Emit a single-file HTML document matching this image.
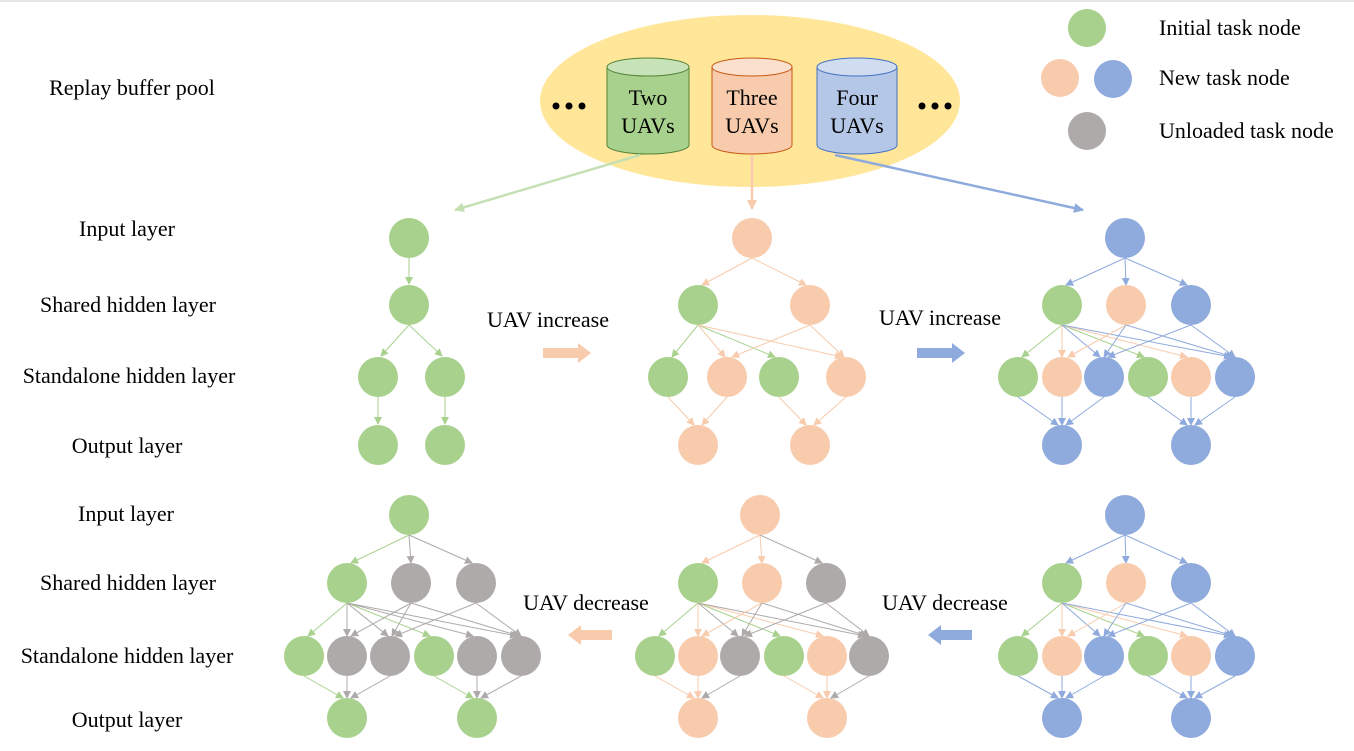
<!DOCTYPE html>
<html><head><meta charset="utf-8"><style>
html,body{margin:0;padding:0;background:#fff;}
svg{display:block;}
text{font-family:"Liberation Serif",serif;font-size:22px;fill:#000;}
</style></head><body>
<svg width="1354" height="751" viewBox="0 0 1354 751" xmlns="http://www.w3.org/2000/svg">
<defs>
<marker id="mg" markerWidth="8" markerHeight="8" refX="7" refY="4" orient="auto" markerUnits="userSpaceOnUse"><path d="M0,0 L8,4 L0,8z" fill="#A9D18E"/></marker>
<marker id="mp" markerWidth="8" markerHeight="8" refX="7" refY="4" orient="auto" markerUnits="userSpaceOnUse"><path d="M0,0 L8,4 L0,8z" fill="#F8CBAD"/></marker>
<marker id="mb" markerWidth="8" markerHeight="8" refX="7" refY="4" orient="auto" markerUnits="userSpaceOnUse"><path d="M0,0 L8,4 L0,8z" fill="#8FAADC"/></marker>
<marker id="mk" markerWidth="8" markerHeight="8" refX="7" refY="4" orient="auto" markerUnits="userSpaceOnUse"><path d="M0,0 L8,4 L0,8z" fill="#AEAAAA"/></marker>
<marker id="mbb" markerWidth="10" markerHeight="10" refX="9" refY="5" orient="auto" markerUnits="userSpaceOnUse"><path d="M0,0 L10,5 L0,10z" fill="#8FAADC"/></marker>
<marker id="mpp" markerWidth="10" markerHeight="10" refX="9" refY="5" orient="auto" markerUnits="userSpaceOnUse"><path d="M0,0 L10,5 L0,10z" fill="#F8CBAD"/></marker>
<marker id="mgg" markerWidth="10" markerHeight="10" refX="9" refY="5" orient="auto" markerUnits="userSpaceOnUse"><path d="M0,0 L10,5 L0,10z" fill="#C5E0B4"/></marker>
</defs>
<rect x="0" y="0" width="1354" height="2" fill="#e6e6e6"/>

<!-- buffer pool -->
<ellipse cx="750" cy="101" rx="210" ry="86" fill="#FFE699"/>
<g stroke-width="1">
<path d="M607,67 V145 A41,9 0 0 0 689,145 V67" fill="#A9D18E" stroke="#548235"/>
<ellipse cx="648" cy="67" rx="41" ry="9" fill="#C9E3B8" stroke="#548235"/>
<path d="M712,67 V145 A40,9 0 0 0 792,145 V67" fill="#F8CBAD" stroke="#C55A11"/>
<ellipse cx="752" cy="67" rx="40" ry="9" fill="#FBE0CE" stroke="#C55A11"/>
<path d="M817,67 V145 A40,9 0 0 0 897,145 V67" fill="#B4C7E7" stroke="#4472C4"/>
<ellipse cx="857" cy="67" rx="40" ry="9" fill="#D0DCF0" stroke="#4472C4"/>
</g>
<text x="648" y="105" text-anchor="middle">Two</text><text x="648" y="133" text-anchor="middle">UAVs</text>
<text x="752" y="105" text-anchor="middle">Three</text><text x="752" y="133" text-anchor="middle">UAVs</text>
<text x="857" y="105" text-anchor="middle">Four</text><text x="857" y="133" text-anchor="middle">UAVs</text>
<g fill="#000"><circle cx="556" cy="106" r="3.5"/><circle cx="569" cy="106" r="3.5"/><circle cx="582" cy="106" r="3.5"/>
<circle cx="922" cy="106" r="3.5"/><circle cx="935" cy="106" r="3.5"/><circle cx="948" cy="106" r="3.5"/></g>
<line x1="640" y1="155" x2="455" y2="210" stroke="#C5E0B4" stroke-width="2.5" marker-end="url(#mgg)"/>
<line x1="752" y1="155" x2="752" y2="209" stroke="#F8CBAD" stroke-width="2.5" marker-end="url(#mpp)"/>
<line x1="835" y1="155" x2="1083" y2="210" stroke="#8FAADC" stroke-width="2.5" marker-end="url(#mbb)"/>

<!-- legend -->
<circle cx="1087" cy="28" r="19" fill="#A9D18E"/>
<circle cx="1060" cy="78" r="19" fill="#F8CBAD"/>
<circle cx="1113" cy="79" r="19" fill="#8FAADC"/>
<circle cx="1087" cy="131" r="19" fill="#AEAAAA"/>
<text x="1159" y="35">Initial task node</text>
<text x="1159" y="85">New task node</text>
<text x="1159" y="138">Unloaded task node</text>

<!-- left labels -->
<text x="132" y="95" text-anchor="middle">Replay buffer pool</text>
<text x="127" y="236" text-anchor="middle">Input layer</text>
<text x="128" y="312" text-anchor="middle">Shared hidden layer</text>
<text x="129" y="383" text-anchor="middle">Standalone hidden layer</text>
<text x="127" y="453" text-anchor="middle">Output layer</text>
<text x="126" y="521" text-anchor="middle">Input layer</text>
<text x="128" y="590" text-anchor="middle">Shared hidden layer</text>
<text x="127" y="663" text-anchor="middle">Standalone hidden layer</text>
<text x="127" y="727" text-anchor="middle">Output layer</text>

<!-- transitions -->
<text x="548" y="327" text-anchor="middle">UAV increase</text>
<path d="M543,348 H578 V343 L591,353 L578,363 V358 H543z" fill="#F8CBAD"/>
<text x="940" y="325" text-anchor="middle">UAV increase</text>
<path d="M917,348 H952 V343 L965,353 L952,363 V358 H917z" fill="#8FAADC"/>
<text x="586" y="610" text-anchor="middle">UAV decrease</text>
<path d="M612,630 H581 V625 L568,635 L581,645 V640 H612z" fill="#F8CBAD"/>
<text x="945" y="610" text-anchor="middle">UAV decrease</text>
<path d="M972,630 H941 V625 L928,635 L941,645 V640 H972z" fill="#8FAADC"/>

<!-- ===== Network 1 (top-left) ===== -->
<g stroke-width="1" fill="none">
<line x1="409" y1="258" x2="409" y2="284" stroke="#A9D18E" marker-end="url(#mg)"/>
<line x1="409" y1="325" x2="381" y2="356" stroke="#A9D18E" marker-end="url(#mg)"/>
<line x1="409" y1="325" x2="442" y2="356" stroke="#A9D18E" marker-end="url(#mg)"/>
<line x1="378" y1="397" x2="378" y2="424" stroke="#A9D18E" marker-end="url(#mg)"/>
<line x1="445" y1="397" x2="445" y2="424" stroke="#A9D18E" marker-end="url(#mg)"/>
</g>
<g fill="#A9D18E">
<circle cx="409" cy="238" r="20"/><circle cx="409" cy="305" r="20"/>
<circle cx="378" cy="377" r="20"/><circle cx="445" cy="377" r="20"/>
<circle cx="378" cy="445" r="20"/><circle cx="445" cy="445" r="20"/>
</g>

<!-- ===== Network 2 (top-middle) ===== -->
<g stroke-width="1" fill="none">
<line x1="752" y1="258" x2="702" y2="285" stroke="#F8CBAD" marker-end="url(#mp)"/>
<line x1="752" y1="258" x2="806" y2="285" stroke="#F8CBAD" marker-end="url(#mp)"/>
<line x1="698" y1="325" x2="672" y2="357" stroke="#A9D18E" marker-end="url(#mg)"/>
<line x1="698" y1="325" x2="775" y2="357" stroke="#A9D18E" marker-end="url(#mg)"/>
<line x1="698" y1="325" x2="725" y2="357" stroke="#F8CBAD" marker-end="url(#mp)"/>
<line x1="698" y1="325" x2="842" y2="357" stroke="#F8CBAD" marker-end="url(#mp)"/>
<line x1="810" y1="325" x2="732" y2="357" stroke="#F8CBAD" marker-end="url(#mp)"/>
<line x1="810" y1="325" x2="844" y2="357" stroke="#F8CBAD" marker-end="url(#mp)"/>
<line x1="668" y1="397" x2="694" y2="425" stroke="#F8CBAD" marker-end="url(#mp)"/>
<line x1="727" y1="397" x2="702" y2="425" stroke="#F8CBAD" marker-end="url(#mp)"/>
<line x1="779" y1="397" x2="806" y2="425" stroke="#F8CBAD" marker-end="url(#mp)"/>
<line x1="846" y1="397" x2="814" y2="425" stroke="#F8CBAD" marker-end="url(#mp)"/>
</g>
<circle cx="752" cy="238" r="20" fill="#F8CBAD"/>
<circle cx="698" cy="305" r="20" fill="#A9D18E"/><circle cx="810" cy="305" r="20" fill="#F8CBAD"/>
<circle cx="668" cy="377" r="20" fill="#A9D18E"/><circle cx="727" cy="377" r="20" fill="#F8CBAD"/>
<circle cx="779" cy="377" r="20" fill="#A9D18E"/><circle cx="846" cy="377" r="20" fill="#F8CBAD"/>
<circle cx="698" cy="445" r="20" fill="#F8CBAD"/><circle cx="810" cy="445" r="20" fill="#F8CBAD"/>

<!-- ===== Network 3 (top-right) ===== -->
<g stroke-width="1" fill="none">
<line x1="1125" y1="258" x2="1066" y2="285" stroke="#8FAADC" marker-end="url(#mb)"/>
<line x1="1125" y1="258" x2="1126" y2="285" stroke="#8FAADC" marker-end="url(#mb)"/>
<line x1="1125" y1="258" x2="1187" y2="285" stroke="#8FAADC" marker-end="url(#mb)"/>
<line x1="1062" y1="325" x2="1022" y2="357" stroke="#A9D18E" marker-end="url(#mg)"/>
<line x1="1062" y1="325" x2="1144" y2="357" stroke="#A9D18E" marker-end="url(#mg)"/>
<line x1="1062" y1="325" x2="1062" y2="357" stroke="#F8CBAD" marker-end="url(#mp)"/>
<line x1="1062" y1="325" x2="1187" y2="357" stroke="#F8CBAD" marker-end="url(#mp)"/>
<line x1="1062" y1="325" x2="1100" y2="357" stroke="#8FAADC" marker-end="url(#mb)"/>
<line x1="1062" y1="325" x2="1231" y2="357" stroke="#8FAADC" marker-end="url(#mb)"/>
<line x1="1126" y1="325" x2="1068" y2="357" stroke="#F8CBAD" marker-end="url(#mp)"/>
<line x1="1126" y1="325" x2="1104" y2="357" stroke="#8FAADC" marker-end="url(#mb)"/>
<line x1="1126" y1="325" x2="1233" y2="357" stroke="#8FAADC" marker-end="url(#mb)"/>
<line x1="1191" y1="325" x2="1108" y2="357" stroke="#8FAADC" marker-end="url(#mb)"/>
<line x1="1191" y1="325" x2="1235" y2="357" stroke="#8FAADC" marker-end="url(#mb)"/>
<line x1="1018" y1="397" x2="1058" y2="425" stroke="#8FAADC" marker-end="url(#mb)"/>
<line x1="1062" y1="397" x2="1062" y2="425" stroke="#8FAADC" marker-end="url(#mb)"/>
<line x1="1104" y1="397" x2="1066" y2="425" stroke="#8FAADC" marker-end="url(#mb)"/>
<line x1="1148" y1="397" x2="1187" y2="425" stroke="#8FAADC" marker-end="url(#mb)"/>
<line x1="1191" y1="397" x2="1191" y2="425" stroke="#8FAADC" marker-end="url(#mb)"/>
<line x1="1235" y1="397" x2="1195" y2="425" stroke="#8FAADC" marker-end="url(#mb)"/>
</g>
<circle cx="1125" cy="238" r="20" fill="#8FAADC"/>
<circle cx="1062" cy="305" r="20" fill="#A9D18E"/><circle cx="1126" cy="305" r="20" fill="#F8CBAD"/><circle cx="1191" cy="305" r="20" fill="#8FAADC"/>
<circle cx="1018" cy="377" r="20" fill="#A9D18E"/><circle cx="1062" cy="377" r="20" fill="#F8CBAD"/><circle cx="1104" cy="377" r="20" fill="#8FAADC"/>
<circle cx="1148" cy="377" r="20" fill="#A9D18E"/><circle cx="1191" cy="377" r="20" fill="#F8CBAD"/><circle cx="1235" cy="377" r="20" fill="#8FAADC"/>
<circle cx="1062" cy="445" r="20" fill="#8FAADC"/><circle cx="1191" cy="445" r="20" fill="#8FAADC"/>

<!-- ===== Network 4 (bottom-left) ===== -->
<g stroke-width="1" fill="none">
<line x1="409" y1="535" x2="351" y2="563" stroke="#A9D18E" marker-end="url(#mg)"/>
<line x1="409" y1="535" x2="411" y2="563" stroke="#AEAAAA" marker-end="url(#mk)"/>
<line x1="409" y1="535" x2="472" y2="563" stroke="#AEAAAA" marker-end="url(#mk)"/>
<line x1="347" y1="603" x2="308" y2="636" stroke="#A9D18E" marker-end="url(#mg)"/>
<line x1="347" y1="603" x2="430" y2="636" stroke="#A9D18E" marker-end="url(#mg)"/>
<line x1="347" y1="603" x2="347" y2="636" stroke="#AEAAAA" marker-end="url(#mk)"/>
<line x1="347" y1="603" x2="388" y2="636" stroke="#AEAAAA" marker-end="url(#mk)"/>
<line x1="347" y1="603" x2="473" y2="636" stroke="#AEAAAA" marker-end="url(#mk)"/>
<line x1="347" y1="603" x2="517" y2="636" stroke="#AEAAAA" marker-end="url(#mk)"/>
<line x1="411" y1="603" x2="351" y2="636" stroke="#AEAAAA" marker-end="url(#mk)"/>
<line x1="411" y1="603" x2="392" y2="636" stroke="#AEAAAA" marker-end="url(#mk)"/>
<line x1="411" y1="603" x2="519" y2="636" stroke="#AEAAAA" marker-end="url(#mk)"/>
<line x1="476" y1="603" x2="395" y2="636" stroke="#AEAAAA" marker-end="url(#mk)"/>
<line x1="476" y1="603" x2="521" y2="636" stroke="#AEAAAA" marker-end="url(#mk)"/>
<line x1="304" y1="676" x2="343" y2="698" stroke="#A9D18E" marker-end="url(#mg)"/>
<line x1="347" y1="676" x2="347" y2="698" stroke="#AEAAAA" marker-end="url(#mk)"/>
<line x1="390" y1="676" x2="351" y2="698" stroke="#AEAAAA" marker-end="url(#mk)"/>
<line x1="434" y1="676" x2="473" y2="698" stroke="#A9D18E" marker-end="url(#mg)"/>
<line x1="477" y1="676" x2="477" y2="698" stroke="#AEAAAA" marker-end="url(#mk)"/>
<line x1="521" y1="676" x2="481" y2="698" stroke="#AEAAAA" marker-end="url(#mk)"/>
</g>
<circle cx="409" cy="515" r="20" fill="#A9D18E"/>
<circle cx="347" cy="583" r="20" fill="#A9D18E"/><circle cx="411" cy="583" r="20" fill="#AEAAAA"/><circle cx="476" cy="583" r="20" fill="#AEAAAA"/>
<circle cx="304" cy="656" r="20" fill="#A9D18E"/><circle cx="347" cy="656" r="20" fill="#AEAAAA"/><circle cx="390" cy="656" r="20" fill="#AEAAAA"/>
<circle cx="434" cy="656" r="20" fill="#A9D18E"/><circle cx="477" cy="656" r="20" fill="#AEAAAA"/><circle cx="521" cy="656" r="20" fill="#AEAAAA"/>
<circle cx="347" cy="718" r="20" fill="#A9D18E"/><circle cx="477" cy="718" r="20" fill="#A9D18E"/>

<!-- ===== Network 5 (bottom-middle) ===== -->
<g stroke-width="1" fill="none">
<line x1="760" y1="535" x2="702" y2="563" stroke="#F8CBAD" marker-end="url(#mp)"/>
<line x1="760" y1="535" x2="762" y2="563" stroke="#F8CBAD" marker-end="url(#mp)"/>
<line x1="760" y1="535" x2="822" y2="563" stroke="#AEAAAA" marker-end="url(#mk)"/>
<line x1="698" y1="603" x2="659" y2="636" stroke="#A9D18E" marker-end="url(#mg)"/>
<line x1="698" y1="603" x2="780" y2="636" stroke="#A9D18E" marker-end="url(#mg)"/>
<line x1="698" y1="603" x2="698" y2="636" stroke="#F8CBAD" marker-end="url(#mp)"/>
<line x1="698" y1="603" x2="823" y2="636" stroke="#F8CBAD" marker-end="url(#mp)"/>
<line x1="698" y1="603" x2="738" y2="636" stroke="#AEAAAA" marker-end="url(#mk)"/>
<line x1="698" y1="603" x2="865" y2="636" stroke="#AEAAAA" marker-end="url(#mk)"/>
<line x1="762" y1="603" x2="702" y2="636" stroke="#F8CBAD" marker-end="url(#mp)"/>
<line x1="762" y1="603" x2="742" y2="636" stroke="#AEAAAA" marker-end="url(#mk)"/>
<line x1="762" y1="603" x2="867" y2="636" stroke="#AEAAAA" marker-end="url(#mk)"/>
<line x1="826" y1="603" x2="745" y2="636" stroke="#AEAAAA" marker-end="url(#mk)"/>
<line x1="826" y1="603" x2="869" y2="636" stroke="#AEAAAA" marker-end="url(#mk)"/>
<line x1="655" y1="676" x2="694" y2="698" stroke="#F8CBAD" marker-end="url(#mp)"/>
<line x1="698" y1="676" x2="698" y2="698" stroke="#F8CBAD" marker-end="url(#mp)"/>
<line x1="740" y1="676" x2="702" y2="698" stroke="#AEAAAA" marker-end="url(#mk)"/>
<line x1="784" y1="676" x2="823" y2="698" stroke="#F8CBAD" marker-end="url(#mp)"/>
<line x1="827" y1="676" x2="827" y2="698" stroke="#F8CBAD" marker-end="url(#mp)"/>
<line x1="869" y1="676" x2="831" y2="698" stroke="#AEAAAA" marker-end="url(#mk)"/>
</g>
<circle cx="760" cy="515" r="20" fill="#F8CBAD"/>
<circle cx="698" cy="583" r="20" fill="#A9D18E"/><circle cx="762" cy="583" r="20" fill="#F8CBAD"/><circle cx="826" cy="583" r="20" fill="#AEAAAA"/>
<circle cx="655" cy="656" r="20" fill="#A9D18E"/><circle cx="698" cy="656" r="20" fill="#F8CBAD"/><circle cx="740" cy="656" r="20" fill="#AEAAAA"/>
<circle cx="784" cy="656" r="20" fill="#A9D18E"/><circle cx="827" cy="656" r="20" fill="#F8CBAD"/><circle cx="869" cy="656" r="20" fill="#AEAAAA"/>
<circle cx="698" cy="718" r="20" fill="#F8CBAD"/><circle cx="827" cy="718" r="20" fill="#F8CBAD"/>

<!-- ===== Network 6 (bottom-right) ===== -->
<g stroke-width="1" fill="none">
<line x1="1125" y1="535" x2="1066" y2="563" stroke="#8FAADC" marker-end="url(#mb)"/>
<line x1="1125" y1="535" x2="1126" y2="563" stroke="#8FAADC" marker-end="url(#mb)"/>
<line x1="1125" y1="535" x2="1187" y2="563" stroke="#8FAADC" marker-end="url(#mb)"/>
<line x1="1062" y1="603" x2="1022" y2="636" stroke="#A9D18E" marker-end="url(#mg)"/>
<line x1="1062" y1="603" x2="1144" y2="636" stroke="#A9D18E" marker-end="url(#mg)"/>
<line x1="1062" y1="603" x2="1062" y2="636" stroke="#F8CBAD" marker-end="url(#mp)"/>
<line x1="1062" y1="603" x2="1187" y2="636" stroke="#F8CBAD" marker-end="url(#mp)"/>
<line x1="1062" y1="603" x2="1100" y2="636" stroke="#8FAADC" marker-end="url(#mb)"/>
<line x1="1062" y1="603" x2="1231" y2="636" stroke="#8FAADC" marker-end="url(#mb)"/>
<line x1="1126" y1="603" x2="1068" y2="636" stroke="#F8CBAD" marker-end="url(#mp)"/>
<line x1="1126" y1="603" x2="1104" y2="636" stroke="#8FAADC" marker-end="url(#mb)"/>
<line x1="1126" y1="603" x2="1233" y2="636" stroke="#8FAADC" marker-end="url(#mb)"/>
<line x1="1191" y1="603" x2="1108" y2="636" stroke="#8FAADC" marker-end="url(#mb)"/>
<line x1="1191" y1="603" x2="1235" y2="636" stroke="#8FAADC" marker-end="url(#mb)"/>
<line x1="1018" y1="676" x2="1058" y2="698" stroke="#8FAADC" marker-end="url(#mb)"/>
<line x1="1062" y1="676" x2="1062" y2="698" stroke="#8FAADC" marker-end="url(#mb)"/>
<line x1="1104" y1="676" x2="1066" y2="698" stroke="#8FAADC" marker-end="url(#mb)"/>
<line x1="1148" y1="676" x2="1187" y2="698" stroke="#8FAADC" marker-end="url(#mb)"/>
<line x1="1191" y1="676" x2="1191" y2="698" stroke="#8FAADC" marker-end="url(#mb)"/>
<line x1="1235" y1="676" x2="1195" y2="698" stroke="#8FAADC" marker-end="url(#mb)"/>
</g>
<circle cx="1125" cy="515" r="20" fill="#8FAADC"/>
<circle cx="1062" cy="583" r="20" fill="#A9D18E"/><circle cx="1126" cy="583" r="20" fill="#F8CBAD"/><circle cx="1191" cy="583" r="20" fill="#8FAADC"/>
<circle cx="1018" cy="656" r="20" fill="#A9D18E"/><circle cx="1062" cy="656" r="20" fill="#F8CBAD"/><circle cx="1104" cy="656" r="20" fill="#8FAADC"/>
<circle cx="1148" cy="656" r="20" fill="#A9D18E"/><circle cx="1191" cy="656" r="20" fill="#F8CBAD"/><circle cx="1235" cy="656" r="20" fill="#8FAADC"/>
<circle cx="1062" cy="718" r="20" fill="#8FAADC"/><circle cx="1191" cy="718" r="20" fill="#8FAADC"/>
</svg>
</body></html>
